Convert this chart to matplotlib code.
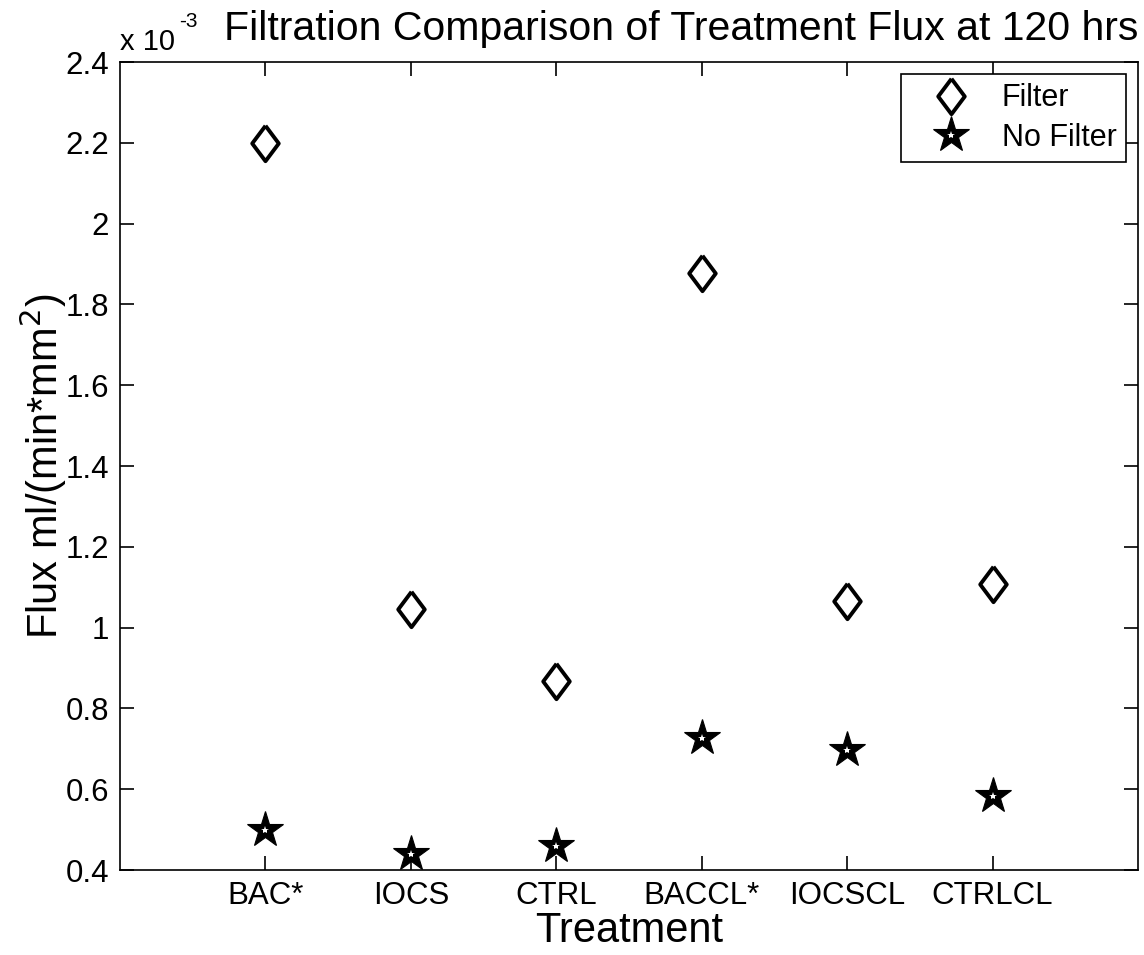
import numpy as np
import matplotlib.pyplot as plt
from matplotlib.markers import MarkerStyle
from matplotlib.ticker import FuncFormatter, MultipleLocator
from matplotlib.legend_handler import HandlerTuple

plt.rcParams['font.family'] = ['Liberation Sans', 'DejaVu Sans']

treatments = ['BAC*', 'IOCS', 'CTRL', 'BACCL*', 'IOCSCL', 'CTRLCL']
flux_filter = [2.20e-3, 1.045e-3, 0.868e-3, 1.878e-3, 1.065e-3, 1.108e-3]
flux_no_filter = [0.500e-3, 0.440e-3, 0.460e-3, 0.728e-3, 0.698e-3, 0.583e-3]

x = np.arange(1, len(treatments) + 1)

# matlab-ish diamond, wider than mpl 'd'
diamond = MarkerStyle([(0, 1), (0.75, 0), (0, -1), (-0.75, 0), (0, 1)], joinstyle='miter')
star = MarkerStyle('*', joinstyle='miter')

fig = plt.figure(figsize=(11.44, 9.55), dpi=100)
ax = fig.add_axes([0.1049, 0.089, 0.8899, 0.846])

h1, = ax.plot(x, flux_filter, linestyle='none', marker=diamond, markersize=25.5,
              markerfacecolor='white', markeredgecolor='black', markeredgewidth=2.8)
h2, = ax.plot(x, flux_no_filter, linestyle='none', marker=star, markersize=27.5,
              markerfacecolor='black', markeredgecolor='black', markeredgewidth=0.8)
h3, = ax.plot(x, flux_no_filter, linestyle='none', marker='*', markersize=6,
              markerfacecolor='white', markeredgecolor='white', markeredgewidth=0)

ax.set_xlim(0, 7)
ax.set_ylim(0.4e-3, 2.4e-3)
ax.set_xticks(x)
ax.set_xticklabels(treatments)
ax.yaxis.set_major_locator(MultipleLocator(0.2e-3))
ax.yaxis.set_major_formatter(FuncFormatter(lambda v, p: '%g' % round(v * 1e3, 6)))
ax.tick_params(direction='in', length=10, width=1.2, labelsize=22.5,
               top=True, right=True, pad=8)
for s in ax.spines.values():
    s.set_linewidth(1.2)

ax.text(0.0, 1.008, 'x 10', transform=ax.transAxes, fontsize=21,
        ha='left', va='bottom')
ax.text(0.0585, 1.038, '-3', transform=ax.transAxes, fontsize=15,
        ha='left', va='bottom')
ax.set_title('Filtration Comparison of Treatment Flux at 120 hrs', fontsize=29.5,
             loc='right', pad=16)
ax.set_xlabel('Treatment', fontsize=30, labelpad=0)
ax.set_ylabel('Flux ml/(min*mm$^2$)', fontsize=30, labelpad=-3)

leg = ax.legend([h1, (h2, h3)], ['Filter', 'No Filter'],
                handler_map={tuple: HandlerTuple(ndivide=1, pad=0)},
                loc='upper right', fontsize=22, fancybox=False, framealpha=1,
                edgecolor='black', borderaxespad=0.4, handletextpad=0.3,
                handlelength=2.7, labelspacing=0.3, borderpad=0.3)
leg.get_frame().set_linewidth(1.2)

fig.savefig('out.png', dpi=100)
